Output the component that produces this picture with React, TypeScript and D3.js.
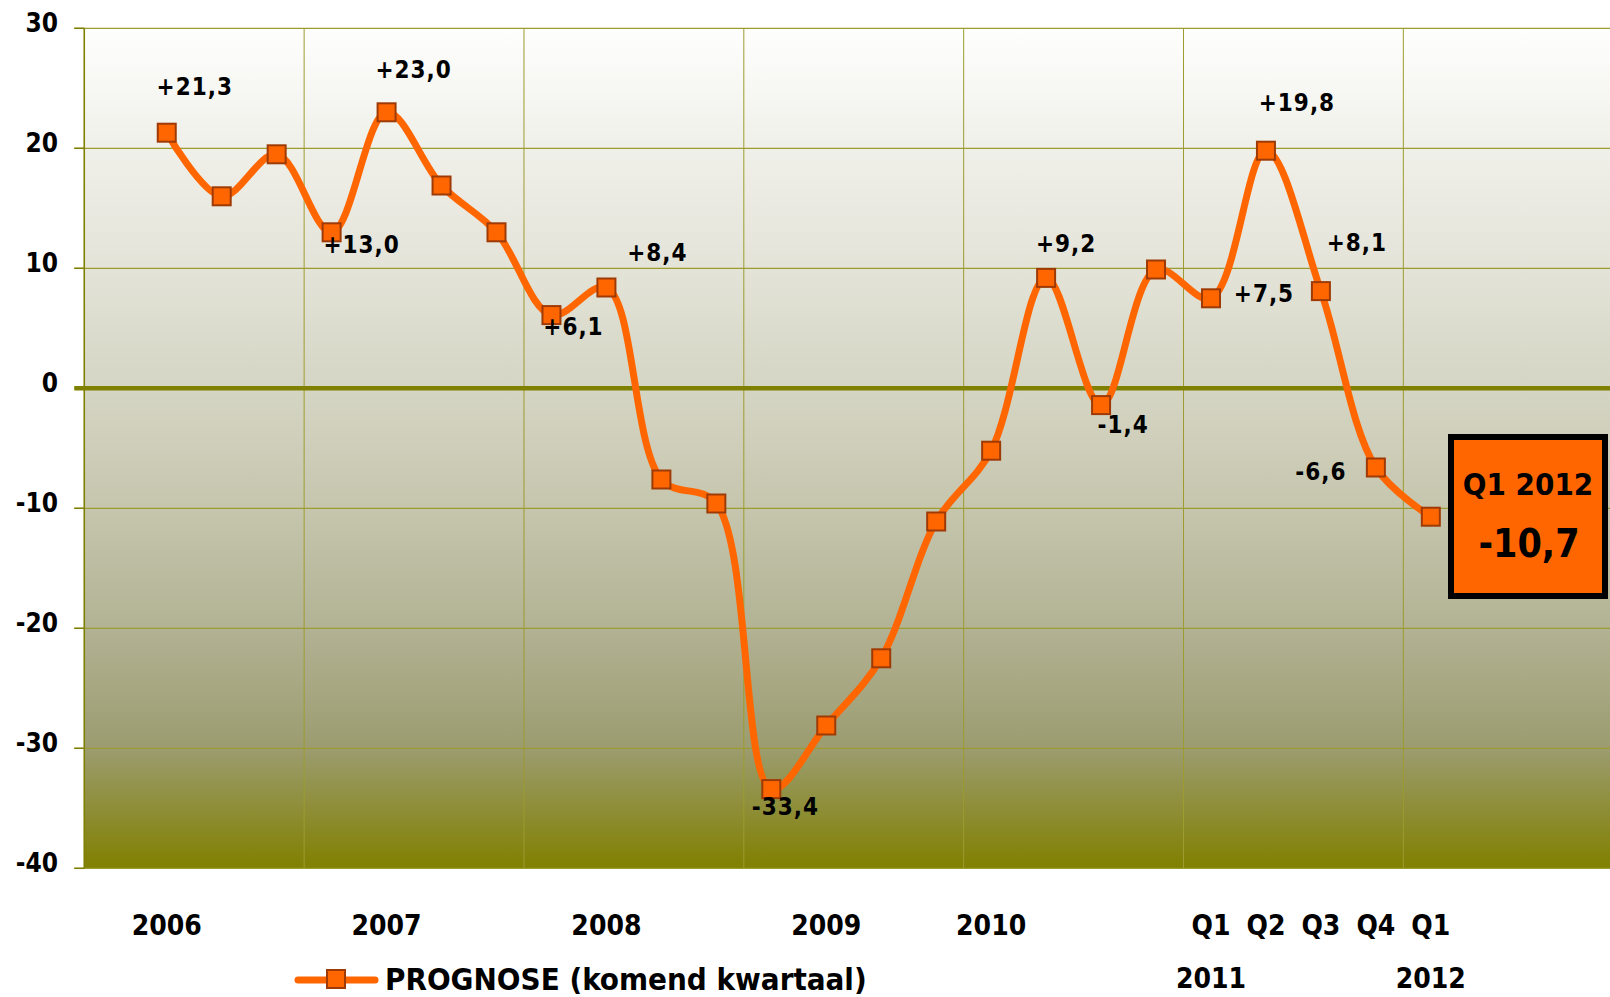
import React from "react";
import * as d3 from "d3";

// ---------- data ----------
const values: number[] = [
  21.3, 16.0, 19.5, 13.0, 23.0, 16.9, 13.0, 6.1, 8.4, -7.6, -9.6, -33.4,
  -28.1, -22.5, -11.1, -5.2, 9.2, -1.4, 9.9, 7.5, 19.8, 8.1, -6.6, -10.7,
];
const tickLabelsRow1: string[] = [
  "2006", "", "", "", "2007", "", "", "", "2008", "", "", "", "2009", "", "",
  "2010", "", "", "", "Q1", "Q2", "Q3", "Q4", "Q1",
];
const tickLabelsRow2: string[] = [
  "", "", "", "", "", "", "", "", "", "", "", "", "", "", "", "", "", "", "",
  "2011", "", "", "", "2012",
];
const yTicks: number[] = [30, 20, 10, 0, -10, -20, -30, -40];
const labelledIndices: number[] = [0, 3, 4, 7, 8, 11, 16, 17, 19, 20, 21, 22];
const seriesName = "PROGNOSE (komend kwartaal)";
const highlightTitle = "Q1 2012";

// ---------- layout / style ----------
const W = 1610;
const H = 997;
const PLOT_LEFT = 84.3;
const SLOT = 54.96;
const PLOT_TOP = 28.3;
const PLOT_BOTTOM = 868.3;
const FONT = "'DejaVu Sans Condensed', 'DejaVu Sans', sans-serif";
const ORANGE = "#FF6600";
const MARKER_STROKE = "#9E3A05";
const OLIVE = "#808000";
const GRID = "#9C9C30";

// label offsets relative to point: [dx (center), dy (baseline)]
const labelOffsets: Record<number, [number, number]> = {
  0: [28, -38],
  3: [30, 21],
  4: [27, -34],
  7: [22, 20],
  8: [51, -27],
  11: [14, 26],
  16: [20, -26],
  17: [22, 28],
  19: [53, 4],
  20: [31, -40],
  21: [36, -40],
  22: [-55, 12],
};

const fmt = (v: number) =>
  (v > 0 ? "+" : "") + v.toFixed(1).replace(".", ",");

export default function App() {
  const x = d3
    .scaleLinear()
    .domain([-1.5, 26.5])
    .range([PLOT_LEFT, PLOT_LEFT + 28 * SLOT]);
  const y = d3.scaleLinear().domain([-40, 30]).range([PLOT_BOTTOM, PLOT_TOP]);

  const line = d3
    .line<number>()
    .x((_, i) => x(i))
    .y((d) => y(d))
    .curve(d3.curveCatmullRom.alpha(0.5));

  const vGrid = d3.range(0, 8).map((k) => -1.5 + 4 * k);
  const last = values[values.length - 1];
  const ms = 18;

  const textStyle: React.CSSProperties = {
    fontFamily: FONT,
    fontStretch: "condensed",
    fontWeight: "bold",
  };

  return (
    <svg
      width={W}
      height={H}
      style={{ position: "absolute", left: 0, top: 0, display: "block" }}
    >
      <defs>
        <linearGradient id="bg" x1="0" y1="0" x2="0" y2="1">
          <stop offset="0" stopColor="#FEFEFD" />
          <stop offset="0.143" stopColor="#F0F0EA" />
          <stop offset="0.286" stopColor="#E3E3D8" />
          <stop offset="0.43" stopColor="#D5D5C4" />
          <stop offset="0.57" stopColor="#C6C6AE" />
          <stop offset="0.714" stopColor="#B2B294" />
          <stop offset="0.857" stopColor="#9C9C70" />
          <stop offset="1" stopColor="#808000" />
        </linearGradient>
      </defs>
      <rect x={0} y={0} width={W} height={H} fill="#FFFFFF" />
      <rect
        x={PLOT_LEFT}
        y={PLOT_TOP}
        width={W - PLOT_LEFT}
        height={PLOT_BOTTOM - PLOT_TOP}
        fill="url(#bg)"
      />
      {/* vertical grid */}
      {vGrid.map((g) => (
        <line
          key={"v" + g}
          x1={x(g)}
          x2={x(g)}
          y1={PLOT_TOP}
          y2={PLOT_BOTTOM}
          stroke={GRID}
          strokeWidth={1}
        />
      ))}
      {/* horizontal grid + ticks */}
      {yTicks.map((t) => (
        <g key={"h" + t}>
          <line
            x1={PLOT_LEFT - 10}
            x2={W}
            y1={y(t)}
            y2={y(t)}
            stroke={t === 0 ? OLIVE : GRID}
            strokeWidth={t === 0 ? 4.5 : 1.2}
          />
          <line
            x1={PLOT_LEFT - 10}
            x2={PLOT_LEFT}
            y1={y(t)}
            y2={y(t)}
            stroke={OLIVE}
            strokeWidth={1.5}
          />
          <text
            x={58}
            y={y(t) - 6}
            dy="0.36em"
            textAnchor="end"
            fontSize={26}
            fill="#000"
            style={textStyle}
          >
            {t}
          </text>
        </g>
      ))}
      {/* left axis */}
      <line
        x1={PLOT_LEFT}
        x2={PLOT_LEFT}
        y1={PLOT_TOP}
        y2={PLOT_BOTTOM}
        stroke={OLIVE}
        strokeWidth={1.5}
      />
      {/* x labels */}
      {tickLabelsRow1.map((l, i) =>
        l ? (
          <text
            key={"r1" + i}
            x={x(i)}
            y={935}
            textAnchor="middle"
            fontSize={28}
            style={textStyle}
          >
            {l}
          </text>
        ) : null
      )}
      {tickLabelsRow2.map((l, i) =>
        l ? (
          <text
            key={"r2" + i}
            x={x(i)}
            y={988}
            textAnchor="middle"
            fontSize={28}
            style={textStyle}
          >
            {l}
          </text>
        ) : null
      )}
      {/* series line */}
      <path
        d={line(values) || ""}
        fill="none"
        stroke={ORANGE}
        strokeWidth={7}
        strokeLinejoin="round"
        strokeLinecap="round"
      />
      {values.map((v, i) => (
        <rect
          key={"m" + i}
          x={x(i) - ms / 2}
          y={y(v) - ms / 2}
          width={ms}
          height={ms}
          fill={ORANGE}
          stroke={MARKER_STROKE}
          strokeWidth={2}
        />
      ))}
      {/* data labels */}
      {labelledIndices.map((i) => {
        const [dx, dy] = labelOffsets[i] || [0, -20];
        return (
          <text
            key={"l" + i}
            x={x(i) + dx}
            y={y(values[i]) + dy}
            textAnchor="middle"
            fontSize={24}
            letterSpacing={1}
            style={textStyle}
          >
            {fmt(values[i])}
          </text>
        );
      })}
      {/* highlight box */}
      <rect
        x={1451}
        y={437}
        width={154}
        height={159}
        fill={ORANGE}
        stroke="#000"
        strokeWidth={6}
      />
      <text
        x={1528}
        y={495}
        textAnchor="middle"
        fontSize={31}
        style={textStyle}
      >
        {highlightTitle}
      </text>
      <text
        x={1529}
        y={557}
        textAnchor="middle"
        fontSize={39}
        style={textStyle}
      >
        {fmt(last)}
      </text>
      {/* legend */}
      <line
        x1={298}
        x2={375}
        y1={980}
        y2={980}
        stroke={ORANGE}
        strokeWidth={7}
        strokeLinecap="round"
      />
      <rect
        x={336 - 9}
        y={979 - 9}
        width={18}
        height={18}
        fill={ORANGE}
        stroke={MARKER_STROKE}
        strokeWidth={2}
      />
      <text x={385} y={990} fontSize={31} style={textStyle}>
        {seriesName}
      </text>
    </svg>
  );
}
